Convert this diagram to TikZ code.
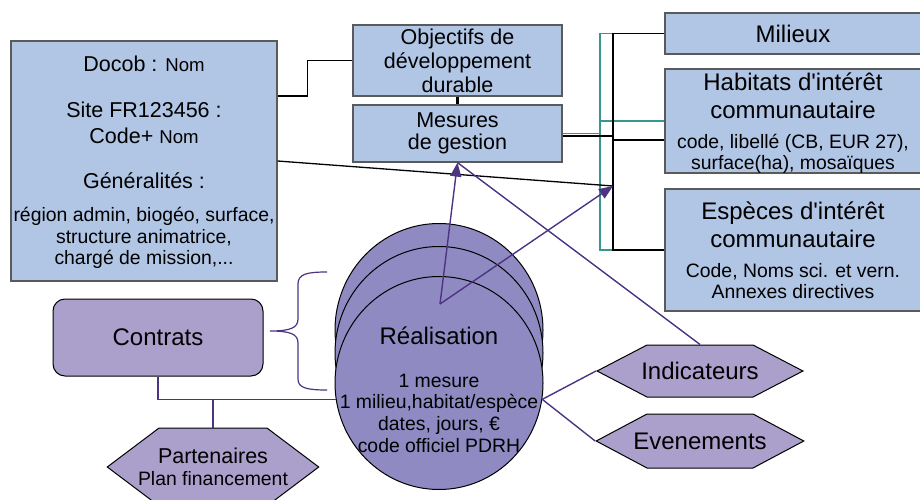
\documentclass[tikz,border=0pt]{standalone}
\usepackage{fontspec}
\setmainfont{Liberation Sans}
\usetikzlibrary{shapes,arrows.meta,positioning}

\definecolor{boxblue}{RGB}{177,197,229}
\definecolor{boxgray}{RGB}{90,90,90}
\definecolor{discpurple}{RGB}{143,138,194}
\definecolor{lavender}{RGB}{171,160,203}
\definecolor{flowpurple}{RGB}{76,52,130}
\definecolor{treeteal}{RGB}{56,150,145}

\begin{document}
\begin{tikzpicture}[x=1pt,y=-1pt]
	\tikzstyle{Box}   = [draw=boxgray, fill=boxblue, line width=1.2pt, inner sep=0pt]
	\tikzstyle{Big}   = [font=\fontsize{24}{28}\selectfont]
	\tikzstyle{Mid}   = [font=\fontsize{21.5}{24}\selectfont]
	\tikzstyle{Small} = [font=\fontsize{19.4}{21.7}\selectfont]
	\tikzstyle{Txt}   = [align=center, inner sep=0pt]
	\tikzstyle{Disc}  = [ellipse, draw=black, fill=discpurple, line width=1pt, minimum width=208pt, minimum height=213pt, inner sep=0pt]
	\tikzstyle{Hexa}  = [signal, signal to=east and west, draw=black, fill=lavender, line width=1pt, align=center, inner ysep=0pt, minimum width=1pt]
	\tikzstyle{Link}  = [black, line width=1.3pt]
	\tikzstyle{Tree}  = [treeteal, line width=1.3pt]
	\tikzstyle{Flow}  = [flowpurple, line width=1.4pt]
	\tikzstyle{Arrow} = [Flow, -{Triangle[length=14pt,width=11pt]}]

	\useasboundingbox (0,0) rectangle (920,500);

	% site description
	\node (docob) at (144,161) [Box, minimum width=266pt, minimum height=240pt] {};
	\node (docob-a) at (144,64) [Txt, Mid] {Docob : {\fontsize{18.6}{22}\selectfont Nom}};
	\node (docob-b) at (144,123) [Txt, font=\fontsize{21.5}{26}\selectfont] {Site FR123456 :\\Code+ {\fontsize{18.6}{22}\selectfont Nom}};
	\node (docob-c) at (144,181) [Txt, Mid] {Généralités :};
	\node (docob-d) at (144,238) [Txt, Small] {région admin, biogéo, surface,\\structure animatrice,\\chargé de mission,...};

	% objectives and measures
	\node (obj) at (457.5,60.5) [Box, Txt, Mid, minimum width=209pt, minimum height=71pt] {Objectifs de\\développement\\durable};
	\node (mes) at (457.5,133.5) [Box, Txt, font=\fontsize{21.5}{22}\selectfont, minimum width=209pt, minimum height=57pt] {Mesures\\de gestion};

	% targets
	\node (mil) at (793,33.5) [Box, Big, minimum width=256pt, minimum height=41pt] {Milieux};
	\node (hab) at (793,121) [Box, minimum width=256pt, minimum height=104pt] {};
	\node (hab-t) at (793,96) [Txt, Big] {Habitats d\textquotesingle intérêt\\communautaire};
	\node (hab-d) at (793,154) [Txt, Small] {code, libellé (CB, EUR 27),\\surface(ha), mosaïques};
	\node (esp) at (793,250) [Box, minimum width=256pt, minimum height=122pt] {};
	\node (esp-t) at (793,225) [Txt, Big] {Espèces d\textquotesingle intérêt\\communautaire};
	\node (esp-d) at (793,281) [Txt, Small] {Code, Noms sci. et vern.\\Annexes directives};

	% realisations
	\node (r3) at (439,330) [Disc] {};
	\node (r2) at (439,353) [Disc] {};
	\node (r1) at (439,383) [Disc] {};
	\node (r1-t) at (439,336) [Txt, Big] {Réalisation};
	\node (r1-d) at (439,413) [Txt, Small] {1 mesure\\1 milieu,habitat/espèce\\dates, jours, €\\code officiel PDRH};

	\node (con) at (158,337.5) [draw=black, fill=lavender, rounded corners=12pt, line width=1pt, minimum width=210pt, minimum height=77pt, Big] {Contrats};
	\node (ind) at (700,371) [Hexa, Big, minimum height=52pt, inner xsep=-5.7pt, signal pointer angle=55] {Indicateurs};
	\node (evt) at (700,441) [Hexa, Big, minimum height=54pt, inner xsep=-13.7pt, signal pointer angle=56] {Evenements};
	\node (part) at (213,467) [Hexa, Small, minimum height=78pt, inner xsep=-21pt, signal pointer angle=74] {{\fontsize{21.5}{24}\selectfont Partenaires}\\Plan financement};

	\coordinate (hub) at (440,304);
	\coordinate (tk) at (600,186);
	\coordinate (bk) at (613,186);

	% connectors
	\draw [Link] (docob.east) ++(0,-65) -- ++(30,0) |- (obj.west);
	\draw [black, line width=3pt] (obj.south) -- (mes.north);
	\draw [Tree] (mes.east) -- (mes.east -| tk);
	\draw [Tree] (bk |- mil.west) -| (tk |- esp.west) -- (bk |- esp.west);
	\draw [Tree] (tk |- hab.west) -- (hab.west);
	\draw [Link] (mil.west) -| (bk) |- (esp.west);
	\draw [Link] (bk |- 0,140) -- (hab.west |- 0,140);
	\draw [Link] ([yshift=-2.5pt]mes.east) -- (bk |- 0,136);
	\draw [Link] (docob.east) -- (bk);

	\draw [Arrow] (hub) -- (mes.south);
	\draw [Arrow] (hub) -- (bk);
	\draw [Flow] (mes.south) -- (ind.north);
	\draw [Flow] (r1.-9) -- (ind.west);
	\draw [Flow] (r1.-9) -- (evt.west);
	\draw [Flow] (con.south) |- (r1.189);
	\draw [Flow] (part.north) -- (part.north |- r1.189);

	% brace
	\draw [Flow, line width=1.2pt] (327,272) .. controls (307,272) and (298,274) .. (298,284) -- (298,319)
		.. controls (298,328) and (290,331) .. (270,331) .. controls (290,331) and (298,334) .. (298,343)
		-- (298,379) .. controls (298,388) and (307,390) .. (327,390);
\end{tikzpicture}
\end{document}
